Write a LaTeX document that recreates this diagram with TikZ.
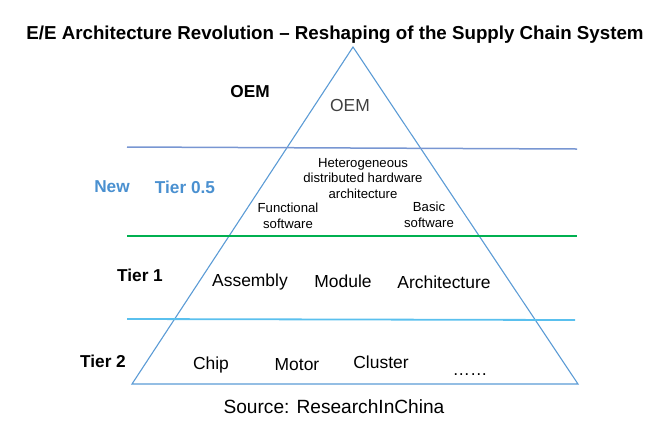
\documentclass[tikz,border=0pt]{standalone}
\usepackage{fontspec}
\setmainfont{Liberation Sans}
\definecolor{triblue}{RGB}{91,155,213}
\definecolor{oemline}{RGB}{120,150,210}
\definecolor{tiergreen}{RGB}{0,176,80}
\definecolor{tiercyan}{RGB}{90,192,238}
\definecolor{newblue}{RGB}{74,144,208}
\newcommand{\fs}[1]{\fontsize{#1}{1.15\dimexpr#1pt\relax}\selectfont}

\begin{document}
\begin{tikzpicture}[x=1bp,y=-1bp]
  \tikzset{lbl/.style={inner sep=0pt,anchor=base,font=\fs{17.5}},
           tier/.style={lbl,font=\bfseries\fs{17.3}},
           small/.style={inner sep=0pt,anchor=base,align=center,font=\fs{13.2}}}
  \useasboundingbox (0,0) rectangle (659,426);
  \node[lbl,font=\bfseries\fs{18.8}] (title) at (335,39) {E/E Architecture Revolution -- Reshaping of the Supply Chain System};
  \coordinate (apex) at (353,47);
  \coordinate (bl) at (132,384);
  \coordinate (br) at (578,384);
  \draw[triblue,line width=1.1bp] (apex) -- (bl) -- (br) -- cycle;
  \coordinate (oemL) at (127,147);  \coordinate (oemR) at (577,149);
  \coordinate (halfL) at (127,236); \coordinate (halfR) at (577,236);
  \coordinate (oneL) at (127,319);  \coordinate (oneR) at (575,320);
  \draw[oemline,line width=1.5bp] (oemL) -- (oemR);
  \draw[tiergreen,line width=1.3bp] (halfL) -- (halfR);
  \draw[tiercyan,line width=1.8bp] (oneL) -- (oneR);
  \node[tier] (oemT) at (250,97) {OEM};
  \node[lbl,text=black!75] (oemIn) at (350,111) {OEM};
  \node[tier,text=newblue] (new) at (112,192) {New};
  \node[tier,text=newblue] (half) at (185,193) {Tier 0.5};
  \node[small] (hetero) at (363,198) {Heterogeneous\\distributed hardware\\architecture};
  \node[small] (funcsw) at (288,228) {Functional\\software};
  \node[small] (basicsw) at (429,227) {Basic\\software};
  \node[tier] (one) at (140,281) {Tier 1};
  \node[lbl] (assembly) at (250,286) {Assembly};
  \node[lbl] (module) at (343,287) {Module};
  \node[lbl] (arch) at (444,288) {Architecture};
  \node[tier] (two) at (103,367) {Tier 2};
  \node[lbl] (chip) at (211,369) {Chip};
  \node[lbl] (motor) at (297,370) {Motor};
  \node[lbl] (cluster) at (381,368) {Cluster};
  \node[lbl] (more) at (470,375) {\dots\dots};
  \node[lbl,font=\fs{19.2}] (source) at (334,413) {Source: ResearchInChina};
\end{tikzpicture}
\end{document}
